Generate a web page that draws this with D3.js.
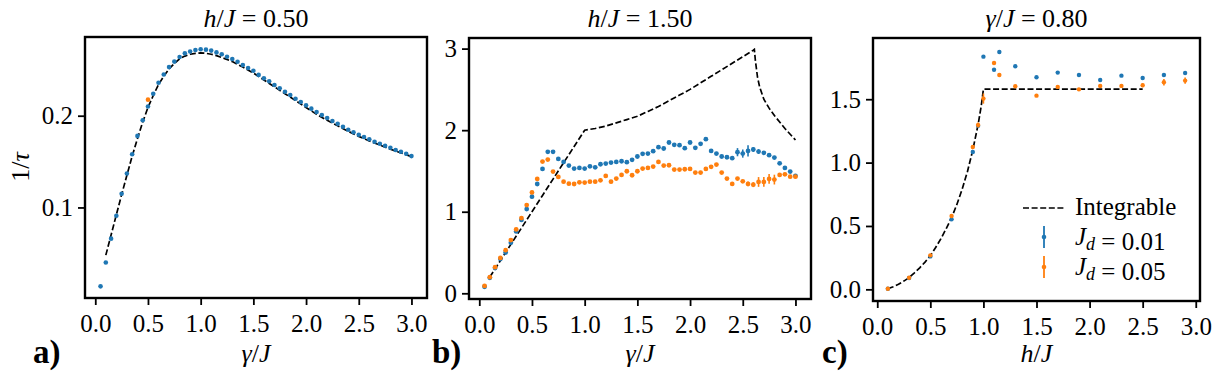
<!DOCTYPE html>
<html>
<head>
<meta charset="utf-8">
<script src="https://cdn.jsdelivr.net/npm/d3@7"></script>
<style>
  body { margin: 0; background: #fff; }
  svg { display: block; }
  text { font-family: "Liberation Serif", "DejaVu Serif", "Noto Serif", "Times New Roman", Times, serif; fill: #000; }
</style>
</head>
<body>
<script>
// ---- panel a : h/J = 0.50 ----
var gammaA = [0.05,0.10,0.15,0.20,0.25,0.30,0.35,0.40,0.45,0.50,0.55,0.60,0.65,0.70,0.75,0.80,0.85,0.90,0.95,1.00,
  1.05,1.10,1.15,1.20,1.25,1.30,1.35,1.40,1.45,1.50,1.55,1.60,1.65,1.70,1.75,1.80,1.85,1.90,1.95,2.00,
  2.05,2.10,2.15,2.20,2.25,2.30,2.35,2.40,2.45,2.50,2.55,2.60,2.65,2.70,2.75,2.80,2.85,2.90,2.95,3.00];
var blueA = [0.014,0.040,0.066,0.091,0.115,0.137,0.158,0.178,0.195,0.210,0.224,0.236,0.245,0.253,0.259,0.264,0.268,0.270,0.2716,0.2724,
  0.272,0.271,0.269,0.267,0.2643,0.2618,0.2589,0.2553,0.252,0.249,0.2445,0.2408,0.2375,0.2335,0.2299,0.2262,0.2226,0.2185,0.2149,0.2113,
  0.2077,0.204,0.2008,0.1975,0.1942,0.1913,0.188,0.1847,0.1819,0.1793,0.1768,0.1743,0.1717,0.1695,0.1673,0.1651,0.1626,0.1607,0.1586,0.156];
var orangeGammaA = [0.5];
var orangeA = [0.2175];
var intGammaA = [0.1,0.15,0.2,0.25,0.3,0.35,0.4,0.45,0.5,0.55,0.6,0.65,0.7,0.75,0.8,0.85,0.9,0.95,1.0,1.05,1.1,1.15,1.2,
  1.3,1.4,1.5,1.6,1.7,1.8,1.9,2.0,2.1,2.2,2.3,2.4,2.5,2.6,2.7,2.8,2.9,3.0];
var intA = [0.048,0.07,0.092,0.114,0.135,0.156,0.175,0.193,0.209,0.222,0.234,0.243,0.251,0.257,0.262,0.265,0.267,0.268,0.2685,0.268,0.267,0.2655,0.2635,
  0.259,0.253,0.2465,0.239,0.2315,0.224,0.2165,0.209,0.2015,0.195,0.189,0.183,0.1775,0.1725,0.168,0.1635,0.1595,0.1555];

// ---- panel b : h/J = 1.50 ----
var gammaB = gammaA;
var blueB = [0.08,0.19,0.31,0.42,0.50,0.62,0.758,0.90,1.033,1.185,1.34,1.525,1.734,1.734,1.648,1.611,1.566,1.529,1.537,1.529,
  1.557,1.545,1.582,1.590,1.603,1.611,1.619,1.607,1.636,1.677,1.710,1.713,1.742,1.791,1.775,1.849,1.820,1.816,1.779,1.849,
  1.783,1.832,1.889,1.746,1.713,1.677,1.668,1.656,1.730,1.713,1.746,1.763,1.738,1.722,1.693,1.664,1.594,1.537,1.492,1.44];
var blueErrB = [0.02,0.02,0.02,0.02,0.02,0.02,0.02,0.02,0.02,0.02,0.02,0.02,0.02,0.02,0.02,0.02,0.02,0.02,0.02,0.02,
  0.02,0.02,0.02,0.02,0.02,0.02,0.02,0.02,0.02,0.02,0.02,0.02,0.02,0.02,0.02,0.02,0.02,0.02,0.02,0.02,
  0.02,0.02,0.02,0.02,0.02,0.02,0.02,0.02,0.05,0.05,0.07,0.03,0.03,0.02,0.02,0.02,0.02,0.02,0.02,0.02];
var orangeB = [0.09,0.197,0.32,0.434,0.529,0.652,0.783,0.922,1.082,1.237,1.402,1.615,1.64,1.492,1.427,1.369,1.344,1.34,1.36,1.357,
  1.369,1.369,1.385,1.439,1.369,1.406,1.451,1.496,1.447,1.496,1.529,1.537,1.553,1.611,1.566,1.570,1.517,1.517,1.521,1.525,
  1.480,1.480,1.525,1.55,1.578,1.480,1.406,1.341,1.406,1.373,1.341,1.332,1.365,1.365,1.402,1.394,1.451,1.459,1.430,1.430];
var orangeErrB = [0.02,0.02,0.02,0.02,0.02,0.02,0.02,0.02,0.02,0.02,0.02,0.02,0.02,0.02,0.02,0.02,0.02,0.02,0.02,0.02,
  0.02,0.02,0.02,0.02,0.02,0.02,0.02,0.02,0.02,0.02,0.02,0.02,0.02,0.02,0.02,0.02,0.02,0.02,0.02,0.02,
  0.02,0.02,0.02,0.02,0.02,0.02,0.02,0.02,0.02,0.02,0.03,0.03,0.06,0.06,0.06,0.06,0.02,0.02,0.02,0.02];
var intGammaB = [0.1,0.2,0.3,0.4,0.5,0.6,0.7,0.8,0.9,1.0,1.1,1.2,1.3,1.4,1.5,1.6,1.7,1.8,1.9,2.0,2.1,2.2,2.3,2.4,2.5,2.6,2.61,
  2.62,2.64,2.66,2.7,2.75,2.8,2.85,2.9,2.95,3.0];
var intB = [0.2,0.4,0.6,0.8,1.0,1.2,1.4,1.6,1.8,2.0,2.02,2.05,2.09,2.13,2.17,2.23,2.29,2.36,2.43,2.5,2.58,2.66,2.74,2.82,2.9,2.98,2.99,
  2.85,2.65,2.53,2.38,2.27,2.18,2.1,2.02,1.95,1.88];

// ---- panel c : gamma/J = 0.80 ----
var hC = [0.1,0.3,0.5,0.7,0.9,0.95,1.0,1.1,1.15,1.3,1.5,1.7,1.9,2.1,2.3,2.5,2.7,2.9];
var blueC = [0.005,0.09,0.26,0.552,1.084,1.29,1.836,1.733,1.873,1.76,1.673,1.71,1.691,1.652,1.686,1.668,1.691,1.707];
var blueErrC = [0.005,0.005,0.005,0.01,0.01,0.01,0.01,0.01,0.01,0.01,0.01,0.01,0.01,0.01,0.01,0.01,0.01,0.01];
var orangeC = [0.005,0.092,0.268,0.579,1.123,1.297,1.505,1.786,1.691,1.602,1.528,1.597,1.578,1.605,1.605,1.61,1.634,1.647];
var orangeErrC = [0.005,0.005,0.005,0.01,0.01,0.02,0.04,0.01,0.01,0.01,0.01,0.01,0.01,0.015,0.015,0.015,0.025,0.025];
var intHC = [0.1,0.15,0.2,0.25,0.3,0.35,0.4,0.45,0.5,0.55,0.6,0.65,0.7,0.75,0.8,0.85,0.9,0.95,0.98,1.0,2.5];
var intC = [0.005,0.02,0.04,0.065,0.092,0.13,0.17,0.215,0.265,0.33,0.40,0.48,0.565,0.67,0.79,0.93,1.10,1.30,1.45,1.58,1.58];

var xTicks = [0,0.5,1,1.5,2,2.5,3];
var legendLabels = ["Integrable", "0.01", "0.05"];

var BLUE = "#1f77b4", ORANGE = "#ff7f0e";
var FONT = '"Liberation Serif", "DejaVu Serif", "Noto Serif", "Times New Roman", Times, serif';

var W = 1219, H = 377;
var svg = d3.select("body").append("svg").attr("width", W).attr("height", H);

function zip(xs, ys, es) {
  return xs.map((x, i) => ({x: x, y: ys[i], e: es ? es[i] : 0}));
}

function mathText(sel, parts) {
  // parts: [text, italic?, subscript?]
  parts.forEach(p => {
    var t = sel.append("tspan").text(p[0]);
    if (p[1]) t.style("font-style", "italic");
    if (p[2]) t.attr("font-size", "0.72em").attr("dy", "0.25em");
  });
}

function panel(cfg) {
  var x = d3.scaleLinear().domain(cfg.xd).range([cfg.left, cfg.right]);
  var y = d3.scaleLinear().domain(cfg.yd).range([cfg.bottom, cfg.top]);
  var g = svg.append("g");

  var clip = "clip" + cfg.id;
  g.append("clipPath").attr("id", clip).append("rect")
    .attr("x", cfg.left).attr("y", cfg.top)
    .attr("width", cfg.right - cfg.left).attr("height", cfg.bottom - cfg.top);

  var xAxis = d3.axisBottom(x).tickValues(xTicks).tickSize(7).tickPadding(4).tickFormat(d3.format(".1f"));
  var yAxis = d3.axisLeft(y).tickValues(cfg.yTicks).tickSize(7).tickPadding(5).tickFormat(cfg.yFmt);

  var gx = g.append("g").attr("transform", "translate(0," + cfg.bottom + ")").call(xAxis);
  var gy = g.append("g").attr("transform", "translate(" + cfg.left + ",0)").call(yAxis);
  [gx, gy].forEach(a => {
    a.attr("font-family", null);
    a.select(".domain").remove();
    a.selectAll(".tick line").attr("stroke", "#000").attr("stroke-width", 1.8);
    a.selectAll(".tick text").attr("font-size", 25).style("font-family", FONT).attr("fill", "#000");
  });
  gx.selectAll(".tick text").attr("dy", "0.9em");

  var plot = g.append("g").attr("clip-path", "url(#" + clip + ")");

  var line = d3.line().x(d => x(d.x)).y(d => y(d.y));
  plot.append("path").datum(zip(cfg.intX, cfg.intY))
    .attr("d", line).attr("fill", "none").attr("stroke", "#000")
    .attr("stroke-width", 1.7).attr("stroke-dasharray", "6,2.6");

  cfg.series.forEach(s => {
    var data = zip(s.x, s.y, s.e);
    plot.selectAll(null).data(data.filter(d => d.e > 0)).enter().append("line")
      .attr("x1", d => x(d.x)).attr("x2", d => x(d.x))
      .attr("y1", d => y(d.y - d.e)).attr("y2", d => y(d.y + d.e))
      .attr("stroke", s.color).attr("stroke-width", 1.6);
    plot.selectAll(null).data(data).enter().append("circle")
      .attr("cx", d => x(d.x)).attr("cy", d => y(d.y)).attr("r", cfg.r)
      .attr("fill", s.color);
  });

  g.append("rect")
    .attr("x", cfg.left).attr("y", cfg.top)
    .attr("width", cfg.right - cfg.left).attr("height", cfg.bottom - cfg.top)
    .attr("fill", "none").attr("stroke", "#000").attr("stroke-width", 2.4);

  var cx = (cfg.left + cfg.right) / 2;
  mathText(g.append("text").attr("x", cx).attr("y", 27).attr("text-anchor", "middle").attr("font-size", 26), cfg.title);
  mathText(g.append("text").attr("x", cx).attr("y", 362).attr("text-anchor", "middle").attr("font-size", 26), cfg.xlabel);
  g.append("text").attr("x", cfg.tagX).attr("y", 363).attr("font-size", 33).attr("font-weight", "bold").text(cfg.tag);
  return {x: x, y: y, g: g};
}

panel({
  id: "a", left: 85, right: 427, top: 37, bottom: 298,
  xd: [-0.0975, 3.1475], yd: [0.0013, 0.2858],
  yTicks: [0.1, 0.2], yFmt: d3.format(".1f"), r: 2.3,
  intX: intGammaA, intY: intA,
  series: [{x: gammaA, y: blueA, color: BLUE}, {x: orangeGammaA, y: orangeA, color: ORANGE}],
  title: [["h", true], ["/"], ["J", true], [" = 0.50"]],
  xlabel: [["γ", true], ["/"], ["J", true]],
  tag: "a)", tagX: 33
});
var ylab = svg.append("text").attr("transform", "translate(29,167) rotate(-90)")
  .attr("text-anchor", "middle").attr("font-size", 26);
mathText(ylab, [["1/"], ["τ", true]]);

panel({
  id: "b", left: 469, right: 811, top: 38, bottom: 299,
  xd: [-0.0975, 3.1475], yd: [-0.07, 3.13],
  yTicks: [0, 1, 2, 3], yFmt: d3.format("d"), r: 2.4,
  intX: intGammaB, intY: intB,
  series: [{x: gammaB, y: blueB, e: blueErrB, color: BLUE}, {x: gammaB, y: orangeB, e: orangeErrB, color: ORANGE}],
  title: [["h", true], ["/"], ["J", true], [" = 1.50"]],
  xlabel: [["γ", true], ["/"], ["J", true]],
  tag: "b)", tagX: 432
});

panel({
  id: "c", left: 873, right: 1200, top: 38, bottom: 301,
  xd: [-0.04, 3.04], yd: [-0.092, 1.983],
  yTicks: [0, 0.5, 1, 1.5], yFmt: d3.format(".1f"), r: 2.2,
  intX: intHC, intY: intC,
  series: [{x: hC, y: blueC, e: blueErrC, color: BLUE}, {x: hC, y: orangeC, e: orangeErrC, color: ORANGE}],
  title: [["γ", true], ["/"], ["J", true], [" = 0.80"]],
  xlabel: [["h", true], ["/"], ["J", true]],
  tag: "c)", tagX: 822
});

// legend
var lg = svg.append("g").attr("transform", "translate(1023,0)");
lg.append("line").attr("x1", 0).attr("x2", 42).attr("y1", 208).attr("y2", 208)
  .attr("stroke", "#000").attr("stroke-width", 1.7).attr("stroke-dasharray", "6,2.6");
lg.append("text").attr("x", 52).attr("y", 215).attr("font-size", 25).text(legendLabels[0]);
[[BLUE, 237, legendLabels[1]], [ORANGE, 267, legendLabels[2]]].forEach(r => {
  lg.append("line").attr("x1", 21).attr("x2", 21).attr("y1", r[1] - 11).attr("y2", r[1] + 11)
    .attr("stroke", r[0]).attr("stroke-width", 1.8);
  lg.append("circle").attr("cx", 21).attr("cy", r[1]).attr("r", 2.3).attr("fill", r[0]);
  mathText(lg.append("text").attr("x", 52).attr("y", r[1] + 8).attr("font-size", 25),
    [["J", true], ["d", true, true], [" = " + r[2]]]);
});
</script>
</body>
</html>
